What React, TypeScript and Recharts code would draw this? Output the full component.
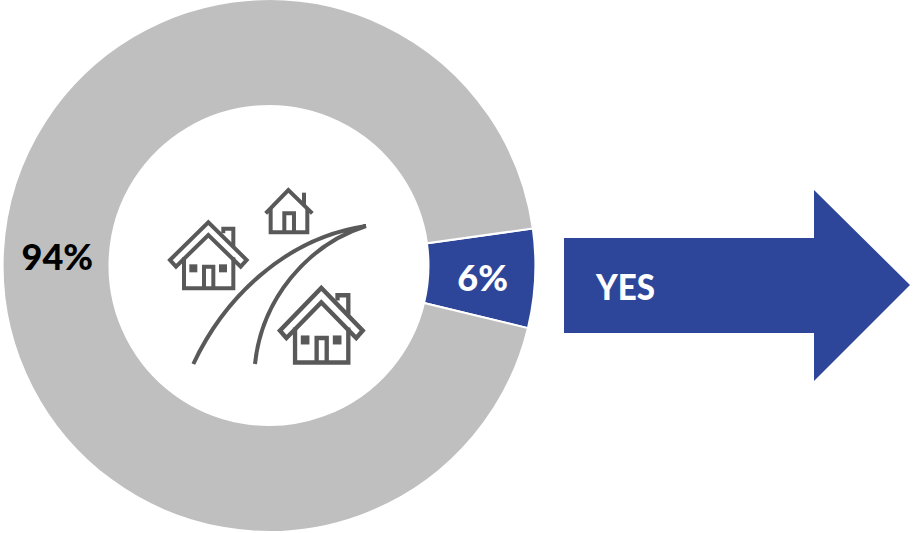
import React from "react";
import { PieChart, Pie, Cell } from "recharts";

const answers = ["Yes", "No"];
const shares = [6, 94];
const sliceColors = ["#2E4699", "#BFBFBF"];
const labelColors = ["#FFFFFF", "#000000"];
const arrowLabel = "YES";

const data = answers.map((name, i) => ({ name, value: shares[i] }));
const FONT = "Lato, 'Open Sans', sans-serif";
const ICON = "#595959";

const RAD = Math.PI / 180;

const renderLabel = (p: any) => {
  const r = (p.innerRadius + p.outerRadius) / 2;
  const x = p.cx + r * Math.cos(-p.midAngle * RAD);
  const y = p.cy + r * Math.sin(-p.midAngle * RAD);
  return (
    <text
      x={x + 1}
      y={y + 1}
      fill={labelColors[p.index]}
      textAnchor="middle"
      dominantBaseline="central"
      fontFamily={FONT}
      fontWeight={900}
      fontSize={36}
    >
      {p.value}%
    </text>
  );
};

// big house with the double roof, drawn in the zoomed icon's coordinates
const House = ({ transform }: { transform?: string }) => (
  <g transform={transform}>
    <path d="M60 270 L175 157 L290 270 L272 290 L175 195 L78 290 Z" />
    <path d="M102 262 V355 H250 V262" />
    <path d="M220 190 V176 H250 V228" />
    <path d="M162 352 V290 H190 V352" />
    <rect x={118} y={283} width={24} height={24} fill={ICON} stroke="none" />
    <rect x={207} y={283} width={24} height={24} fill={ICON} stroke="none" />
  </g>
);

const Icon = () => (
  <g
    transform="translate(150 170) scale(0.3333)"
    fill="none"
    stroke={ICON}
    strokeWidth={12}
  >
    <House />
    <House transform="translate(514 354) scale(1.08 1.13) translate(-175 -157)" />
    <path d="M347 130 L415 60 L487 130" />
    <path d="M362 116 V187 H472 V116" />
    <path d="M403 185 V130 H432 V185" />
    <path d="M462 68 V106" />
    <path d="M130 582 C220 390 400 205 648 168 C470 225 335 390 315 582" />
  </g>
);

export default function App() {
  return (
    <div style={{ position: "absolute", left: 0, top: 0, width: 913, height: 533, background: "#fff" }}>
      <PieChart width={913} height={533} margin={{ top: 0, right: 0, bottom: 0, left: 0 }}>
        <Pie
          data={data}
          dataKey="value"
          nameKey="name"
          cx={269}
          cy={265.5}
          innerRadius={159.5}
          outerRadius={266.4}
          startAngle={8}
          endAngle={-352}
          stroke="#FFFFFF"
          strokeWidth={2}
          label={renderLabel}
          labelLine={false}
          isAnimationActive={false}
        >
          {data.map((d, i) => (
            <Cell key={d.name} fill={sliceColors[i]} />
          ))}
        </Pie>
        <Icon />
        <polygon
          points="564,238 814,238 814,190 910,285 814,381 814,333 564,333"
          fill="#2E4699"
        />
        <text
          x={596}
          y={286}
          fill="#FFFFFF"
          fontFamily={FONT}
          fontWeight={900}
          fontSize={36}
          textLength={59}
          lengthAdjust="spacingAndGlyphs"
          dominantBaseline="central"
        >
          {arrowLabel}
        </text>
      </PieChart>
    </div>
  );
}
